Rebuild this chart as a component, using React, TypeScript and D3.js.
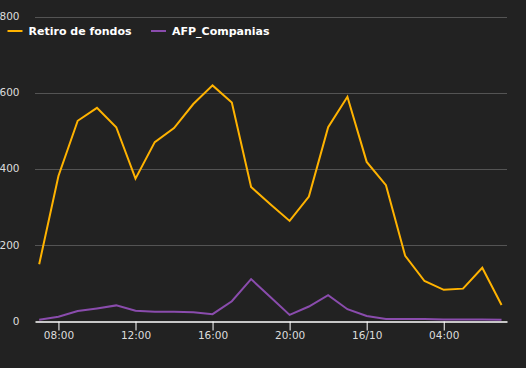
import { useEffect, useRef } from "react";
import * as d3 from "d3";

// hourly points, 15/10 07:00 -> 16/10 07:00
const start = new Date(2020, 9, 15, 7, 0);
const hours = d3.range(25).map(i => new Date(start.getTime() + i * 3600 * 1000));

const retiro = [149, 381, 526, 560, 509, 374, 470, 507, 570, 619, 574, 352, 307, 263, 327, 509, 589, 418, 357, 171, 105, 82, 85, 140, 42];
const afp = [3, 11, 26, 33, 41, 27, 24, 24, 23, 18, 52, 110, 63, 16, 38, 68, 31, 13, 5, 5, 5, 4, 4, 4, 3];

const seriesNames = ["Retiro de fondos", "AFP_Companias"];
const seriesColors = ["#ffb300", "#8a4cad"];
const yTicks = [0, 200, 400, 600, 800];

const W = 526;
const H = 368;

export default function App() {
    const svgRef = useRef<SVGSVGElement | null>(null);

    useEffect(() => {
        const svg = d3.select(svgRef.current);
        svg.selectAll("*").remove();

        svg.append("rect").attr("width", W).attr("height", H).attr("fill", "#222222");

        const left = 35, right = 507, top = 16.5, bottom = 321;

        const xScale = d3.scaleTime()
            .domain([new Date(2020, 9, 15, 6, 47), new Date(2020, 9, 16, 7, 17)])
            .range([left, right]);
        const yScale = d3.scaleLinear().domain([0, 800]).range([bottom, top]);

        // grid
        const grid = svg.append("g");
        grid.selectAll("line")
            .data(yTicks.filter(t => t > 0))
            .join("line")
            .attr("x1", left)
            .attr("x2", right)
            .attr("y1", d => Math.round(yScale(d)) + 0.5)
            .attr("y2", d => Math.round(yScale(d)) + 0.5)
            .attr("stroke", "#545454")
            .attr("stroke-width", 1);

        grid.selectAll("text")
            .data(yTicks)
            .join("text")
            .attr("x", 19.5)
            .attr("y", d => yScale(d))
            .attr("dy", "0.35em")
            .attr("text-anchor", "end")
            .attr("fill", "#dddddd")
            .style("font-family", "'DejaVu Sans', sans-serif")
            .style("font-size", "10.5px")
            .text(d => d);

        // x axis
        const xAxis = d3.axisBottom(xScale)
            .ticks(d3.timeHour.every(4))
            .tickSize(9)
            .tickSizeOuter(0)
            .tickFormat((d: any) => d.getHours() === 0 ? d3.timeFormat("%d/%m")(d) : d3.timeFormat("%H:%M")(d));
        const gx = svg.append("g")
            .attr("transform", `translate(0,${bottom + 0.5})`)
            .call(xAxis as any);
        gx.select(".domain").attr("stroke", "#ffffff").attr("stroke-width", 1.5);
        gx.selectAll(".tick line").attr("stroke", "#ffffff");
        gx.selectAll(".tick text")
            .attr("fill", "#dddddd")
            .attr("y", 10.5)
            .style("font-family", "'DejaVu Sans', sans-serif")
            .style("font-size", "10.5px");

        const line = d3.line<number>()
            .x((_, i) => xScale(hours[i]))
            .y(d => yScale(d));

        [retiro, afp].forEach((s, k) => {
            svg.append("path")
                .datum(s)
                .attr("fill", "none")
                .attr("stroke", seriesColors[k])
                .attr("stroke-width", 2)
                .attr("stroke-linejoin", "miter")
                .attr("d", line);
        });

        // legend
        const legendX = [7.5, 151];
        seriesNames.forEach((name, k) => {
            const g = svg.append("g").attr("transform", `translate(${legendX[k]},31)`);
            g.append("line")
                .attr("x1", 0).attr("x2", 15)
                .attr("y1", 0).attr("y2", 0)
                .attr("stroke", seriesColors[k])
                .attr("stroke-width", 2);
            g.append("text")
                .attr("x", 21)
                .attr("y", 0)
                .attr("dy", "0.35em")
                .attr("fill", "#ffffff")
                .style("font-family", "'DejaVu Sans', sans-serif")
                .style("font-weight", "bold")
                .style("font-size", "11px")
                .text(name);
        });
    }, []);

    return (
        <svg ref={svgRef} width={W} height={H}
            style={{ position: "absolute", left: 0, top: 0, display: "block" }} />
    );
}
